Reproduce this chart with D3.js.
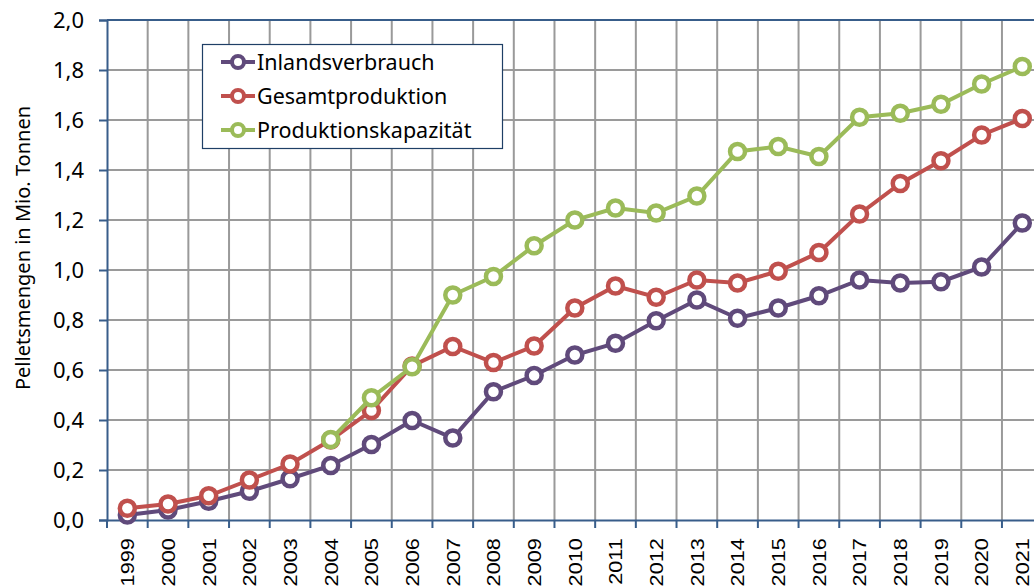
<html>
<head>
<meta charset="utf-8">
<title>Pelletsmengen</title>
<script src="https://d3js.org/d3.v7.min.js"></script>
<style>
	body { margin: 0; background: #fff; }
	svg { display: block; }
	.tick text { fill: #000; }
</style>
</head>
<body>
<svg id="chart" width="1034" height="588"></svg>
<script>
// data (Mio. Tonnen)
const years = ["1999","2000","2001","2002","2003","2004","2005","2006","2007","2008","2009",
	"2010","2011","2012","2013","2014","2015","2016","2017","2018","2019","2020","2021"];
const inlandsverbrauch = [0.02, 0.04, 0.075, 0.115, 0.165, 0.218, 0.302, 0.398, 0.328, 0.513, 0.578,
	0.66, 0.707, 0.797, 0.88, 0.807, 0.848, 0.897, 0.96, 0.948, 0.953, 1.012, 1.188];
const gesamtproduktion = [0.047, 0.064, 0.097, 0.16, 0.224, 0.32, 0.438, 0.616, 0.694, 0.63, 0.696,
	0.848, 0.936, 0.891, 0.96, 0.948, 0.995, 1.07, 1.224, 1.346, 1.437, 1.54, 1.606];
const kapazitaet = [null, null, null, null, null, 0.322, 0.489, 0.613, 0.9, 0.974, 1.097,
	1.2, 1.248, 1.228, 1.296, 1.474, 1.494, 1.454, 1.611, 1.627, 1.663, 1.744, 1.814];
const seriesNames = ["Inlandsverbrauch", "Gesamtproduktion", "Produktionskapazität"];
const seriesColors = ["#604a7b", "#c0504d", "#9bbb59"];
const yTicks = [0, 0.2, 0.4, 0.6, 0.8, 1.0, 1.2, 1.4, 1.6, 1.8, 2.0];

const svg = d3.select("#chart");
const mLeft = 107, mTop = 20, mBottom = 520, bandW = 40.68;
const mRight = mLeft + years.length * bandW;

const x = d3.scaleBand().domain(years).range([mLeft, mRight]).padding(0);
const y = d3.scaleLinear().domain([0, 2]).range([mBottom, mTop]);
const de = d3.formatLocale({decimal: ",", thousands: ".", grouping: [3], currency: ["", " €"]});
const fmt = de.format(".1f");

const font = "'Noto Sans', 'DejaVu Sans', sans-serif";

// grid
const grid = svg.append("g");
grid.selectAll("line.h")
	.data(yTicks.slice(1, -1))
	.enter().append("line")
	.attr("x1", mLeft).attr("x2", mRight)
	.attr("y1", d => y(d)).attr("y2", d => y(d))
	.attr("stroke", "#9a9a9a").attr("stroke-width", 2);
grid.selectAll("line.v")
	.data(years.slice(1))
	.enter().append("line")
	.attr("x1", d => x(d)).attr("x2", d => x(d))
	.attr("y1", mTop).attr("y2", mBottom)
	.attr("stroke", "#9a9a9a").attr("stroke-width", 2);
// top border
grid.append("line")
	.attr("x1", mLeft).attr("x2", mRight)
	.attr("y1", y(2)).attr("y2", y(2))
	.attr("stroke", "#385d8a").attr("stroke-width", 2);

// Y axis
const yAxis = svg.append("g")
	.attr("transform", "translate(" + mLeft + ",0)")
	.call(d3.axisLeft(y).tickValues(yTicks).tickFormat(fmt).tickSize(8).tickPadding(15));
yAxis.select(".domain").attr("stroke", "#385d8a").attr("stroke-width", 2);
yAxis.selectAll(".tick line").attr("stroke", "#385d8a").attr("stroke-width", 2);
yAxis.selectAll("text").style("font-family", font).style("font-size", "22px");

// X axis
const xAxis = svg.append("g")
	.attr("transform", "translate(0," + mBottom + ")")
	.call(d3.axisBottom(x).tickSize(0).tickSizeOuter(0));
xAxis.select(".domain").attr("stroke", "#385d8a").attr("stroke-width", 2);
xAxis.selectAll(".tick text")
	.attr("transform", "rotate(-90) scale(1.14,1)")
	.attr("text-anchor", "end")
	.attr("x", -16).attr("y", 0).attr("dy", "0.36em")
	.style("font-family", "'Liberation Sans', Arial, sans-serif")
	.style("font-size", "19px");
xAxis.selectAll("line.bt")
	.data(years.concat(["end"]))
	.enter().append("line")
	.attr("class", "bt")
	.attr("x1", (d, i) => mLeft + i * bandW).attr("x2", (d, i) => mLeft + i * bandW)
	.attr("y1", 0).attr("y2", 8)
	.attr("stroke", "#385d8a").attr("stroke-width", 2);

// axis title
svg.append("text")
	.attr("transform", "translate(30,248) rotate(-90)")
	.attr("text-anchor", "middle")
	.style("font-family", font).style("font-size", "20px")
	.text("Pelletsmengen in Mio. Tonnen");

// lines
const allSeries = [inlandsverbrauch, gesamtproduktion, kapazitaet];
const line = d3.line()
	.defined(d => d != null)
	.x((d, i) => x(years[i]) + bandW / 2)
	.y(d => y(d));

allSeries.forEach(function(vals, s) {
	const g = svg.append("g");
	g.append("path")
		.datum(vals)
		.attr("d", line)
		.attr("fill", "none")
		.attr("stroke", seriesColors[s])
		.attr("stroke-width", 4);
	g.selectAll("circle")
		.data(vals.map((v, i) => ({v: v, yr: years[i]})).filter(d => d.v != null))
		.enter().append("circle")
		.attr("cx", d => x(d.yr) + bandW / 2)
		.attr("cy", d => y(d.v))
		.attr("r", 7.5)
		.attr("fill", "#fff")
		.attr("stroke", seriesColors[s])
		.attr("stroke-width", 4.5);
});

// legend
const legend = svg.append("g");
legend.append("rect")
	.attr("x", 202.5).attr("y", 44.5).attr("width", 300).attr("height", 104)
	.attr("fill", "#fff").attr("stroke", "#1f3f66").attr("stroke-width", 1.2);
seriesNames.forEach(function(name, i) {
	const cy = 62 + i * 34;
	legend.append("line")
		.attr("x1", 221).attr("x2", 255).attr("y1", cy).attr("y2", cy)
		.attr("stroke", seriesColors[i]).attr("stroke-width", 4);
	legend.append("circle")
		.attr("cx", 238).attr("cy", cy).attr("r", 6)
		.attr("fill", "#fff").attr("stroke", seriesColors[i]).attr("stroke-width", 4);
	legend.append("text")
		.attr("x", 257).attr("y", cy).attr("dy", "0.35em")
		.style("font-family", font).style("font-size", "21.5px")
		.text(name);
});
</script>
</body>
</html>
